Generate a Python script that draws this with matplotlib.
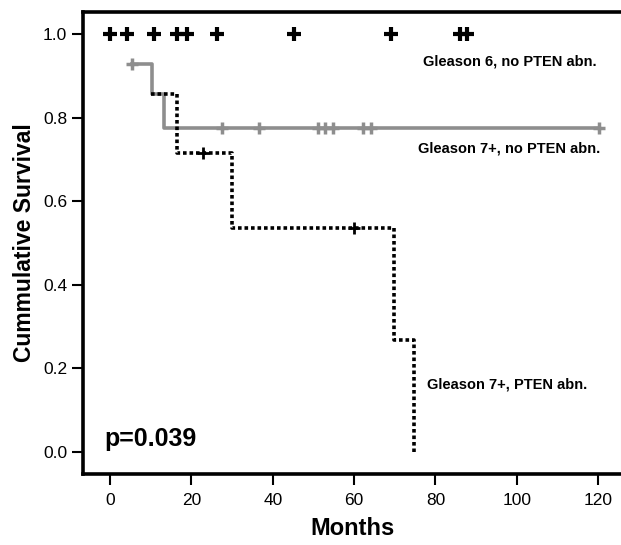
import numpy as np
import matplotlib.pyplot as plt

plt.rcParams['font.family'] = ['Liberation Sans', 'DejaVu Sans']

# Gleason 6, no PTEN abn. (all censored at 1.0)
g6_censor = [0.1, 4.1, 10.8, 16.4, 18.9, 26.3, 45.2, 69.1, 86.0, 87.8]

# Gleason 7+, no PTEN abn.
g7_times = [5.5, 10.2, 13.2, 120.2]
g7_surv = [0.929, 0.857, 0.775, 0.775]
g7_censor_t = [5.5, 27.4, 36.5, 51.1, 52.9, 54.9, 62.2, 64.1, 120.2]
g7_censor_s = [0.929, 0.775, 0.775, 0.775, 0.775, 0.775, 0.775, 0.775, 0.775]

# Gleason 7+, PTEN abn.
pten_times = [10.0, 16.4, 30.1, 69.9, 74.8]
pten_surv = [0.857, 0.714, 0.536, 0.268, 0.0]
pten_censor_t = [22.9, 60.0]
pten_censor_s = [0.714, 0.536]

fig = plt.figure(figsize=(6.21, 5.45), dpi=100)
# axes run off the right edge, as in the cropped original
ax = fig.add_axes([0.1337, 0.1303, 0.8663, 0.848])

gray = '#8e8e8e'
ax.step(g7_times, g7_surv, where='post', color=gray, lw=2.6, zorder=2)
ax.plot(g7_censor_t, g7_censor_s, '+', color=gray, ms=9, mew=2.5, zorder=3)

ax.step(pten_times, pten_surv, where='post', color='black', lw=2.6,
        linestyle=(0, (1.0, 0.8)), zorder=4)
ax.plot(pten_censor_t, pten_censor_s, '+', color='black', ms=9, mew=2.0, zorder=5)

ax.plot(g6_censor, np.ones(len(g6_censor)), '+', color='black', ms=10, mew=3, zorder=5)

ax.text(119.5, 0.933, 'Gleason 6, no PTEN abn.', ha='right', va='center',
        fontsize=10.5, fontweight='bold')
ax.text(120.5, 0.725, 'Gleason 7+, no PTEN abn.', ha='right', va='center',
        fontsize=10.5, fontweight='bold')
ax.text(78, 0.16, 'Gleason 7+, PTEN abn.', ha='left', va='center',
        fontsize=10.5, fontweight='bold')
ax.text(-1.5, 0.03, 'p=0.039', ha='left', va='center', fontsize=18, fontweight='bold')

ax.set_xlim(-6.64, 125.6)
ax.set_ylim(-0.053, 1.053)
ax.set_xticks([0, 20, 40, 60, 80, 100, 120])
ax.set_yticks([0.0, 0.2, 0.4, 0.6, 0.8, 1.0])
ax.set_yticklabels(['0.0', '0.2', '0.4', '0.6', '0.8', '1.0'])
ax.tick_params(direction='out', length=8, width=1.5, labelsize=12.5)
ax.tick_params(axis='x', pad=6)
for s in ax.spines.values():
    s.set_linewidth(2.6)
ax.spines['right'].set_linewidth(0.8)
ax.spines['right'].set_color('#dddddd')

ax.set_xlabel('Months', fontsize=17, fontweight='bold', labelpad=6)
ax.set_ylabel('Cummulative Survival', fontsize=16.5, fontweight='bold', labelpad=5)

fig.savefig('out.png', dpi=100)
